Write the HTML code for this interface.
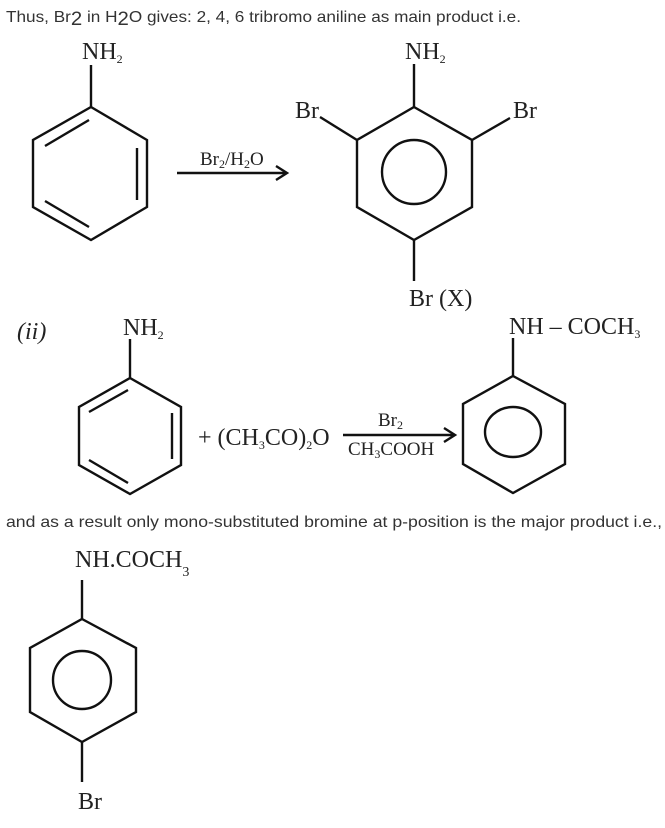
<!DOCTYPE html>
<html><head><meta charset="utf-8"><style>
html,body{margin:0;padding:0;background:#fff}
svg{display:block}
.s{font-family:"Liberation Sans",sans-serif;fill:#333;font-size:16px}
.t{font-family:"Liberation Serif",serif;fill:#222;font-size:24px}
.sm{font-family:"Liberation Serif",serif;fill:#222;font-size:19px}
.sub{font-size:12px}
</style></head><body>
<svg width="665" height="828" viewBox="0 0 665 828" xmlns="http://www.w3.org/2000/svg">
<g stroke="#111" stroke-width="2.4" fill="none" stroke-linejoin="miter">
<polygon points="91,107 147,140 147,207 91,240 33,207 33,140"/>
<line x1="91" y1="65" x2="91" y2="107"/>
<line x1="45" y1="146" x2="89" y2="120"/>
<line x1="137" y1="148" x2="137" y2="200"/>
<line x1="45" y1="201" x2="89" y2="227"/>
<line x1="177" y1="173" x2="287" y2="173"/>
<polyline points="276,166 287,173 276,180"/>
<polygon points="414,107 472,140 472,207 414,240 357,207 357,140"/>
<circle cx="414" cy="172" r="32"/>
<line x1="414" y1="64" x2="414" y2="107"/>
<line x1="320" y1="117" x2="357" y2="140"/>
<line x1="472" y1="140" x2="510" y2="118"/>
<line x1="414" y1="240" x2="414" y2="281"/>
<polygon points="130,378 181,407 181,465 130,494 79,465 79,407"/>
<line x1="130" y1="339" x2="130" y2="378"/>
<line x1="89" y1="412" x2="128" y2="390"/>
<line x1="172" y1="413" x2="172" y2="459"/>
<line x1="89" y1="460" x2="128" y2="483"/>
<line x1="343" y1="435" x2="455" y2="435"/>
<polyline points="444,428 455,435 444,442"/>
<polygon points="513,376 565,404 565,464 513,493 463,464 463,404"/>
<ellipse cx="513" cy="432" rx="28" ry="25"/>
<line x1="513" y1="338" x2="513" y2="376"/>
<polygon points="82,619 136,648 136,712 82,742 30,712 30,648"/>
<circle cx="82" cy="680" r="29"/>
<line x1="82" y1="580" x2="82" y2="619"/>
<line x1="82" y1="742" x2="82" y2="782"/>
</g>
<text class="s" x="6" y="22" textLength="515" lengthAdjust="spacingAndGlyphs">Thus, Br<tspan font-size="19" dy="3">2</tspan><tspan dy="-3"> in H</tspan><tspan font-size="19" dy="3">2</tspan><tspan dy="-3">O gives: 2, 4, 6 tribromo aniline as main product i.e.</tspan></text>
<text class="t" x="82" y="59">NH<tspan class="sub" dy="4">2</tspan></text>
<text class="sm" x="200" y="165">Br<tspan class="sub" dy="3">2</tspan><tspan dy="-3">/H</tspan><tspan class="sub" dy="3">2</tspan><tspan dy="-3">O</tspan></text>
<text class="t" x="405" y="59">NH<tspan class="sub" dy="4">2</tspan></text>
<text class="t" x="295" y="118">Br</text>
<text class="t" x="513" y="118">Br</text>
<text class="t" x="409" y="306">Br  (X)</text>
<text class="t" x="17" y="339" font-style="italic">(ii)</text>
<text class="t" x="123" y="335">NH<tspan class="sub" dy="4">2</tspan></text>
<text class="t" x="198" y="445">+ (CH<tspan class="sub" dy="4">3</tspan><tspan dy="-4">CO)</tspan><tspan class="sub" dy="4">2</tspan><tspan dy="-4">O</tspan></text>
<text class="sm" x="378" y="426">Br<tspan class="sub" dy="3">2</tspan></text>
<text class="sm" x="348" y="455">CH<tspan class="sub" dy="3">3</tspan><tspan dy="-3">COOH</tspan></text>
<text class="t" x="509" y="334">NH – COCH<tspan class="sub" dy="4">3</tspan></text>
<text class="s" x="6" y="527" textLength="656" lengthAdjust="spacingAndGlyphs">and as a result only mono-substituted bromine at p-position is the major product i.e.,</text>
<text class="t" x="75" y="567" font-size="26">NH.COCH<tspan dy="9" font-size="14">3</tspan></text>
<text class="t" x="78" y="809">Br</text>
</svg>
</body></html>
